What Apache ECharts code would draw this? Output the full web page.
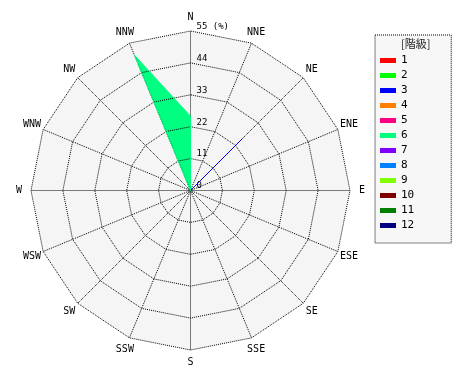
<!DOCTYPE html>
<html>
<head>
<meta charset="utf-8">
<script src="https://cdn.jsdelivr.net/npm/echarts@6/dist/echarts.min.js"></script>
<style>html,body{margin:0;padding:0;background:#fff}#c{width:470px;height:380px}</style>
</head>
<body>
<div id="c"></div>
<script>
// Directions, clockwise from north
const directions = ['N','NNE','NE','ENE','E','ESE','SE','SSE','S','SSW','SW','WSW','W','WNW','NW','NNW'];
// Radial scale (%)
const radialMax = 55;
const radialSplits = 5;
const radialUnit = '(%)';
// Classes (階級)
const classNames = ['1','2','3','4','5','6','7','8','9','10','11','12'];
const classColors = ['#ff0000','#00ff00','#0000ff','#ff8000','#ff0080','#00ff80','#8000ff','#0080ff','#80ff00','#800000','#008000','#000080'];
const legendTitle = '[階級]';
// Frequency (%) per direction, clockwise from N, for each class
const class1  = [0,0,0,0,0,0,0,0,0,0,0,0,0,0,0,0];
const class2  = [0,0,0,0,0,0,0,0,0,0,0,0,0,0,0,0];
const class3  = [0,0,25.3,0,0,0,0,0,0,0,0,0,0,0,0,0];
const class4  = [0,0,0,0,0,0,0,0,0,0,0,0,0,0,0,0];
const class5  = [0,0,0,0,0,0,0,0,0,0,0,0,0,0,0,0];
const class6  = [25.6,0,0,0,0,0,0,0,0,0,0,0,0,0,0,50.5];
const class7  = [0,0,0,0,0,0,0,0,0,0,0,0,0,0,0,0];
const class8  = [0,0,0,0,0,0,0,0,0,0,0,0,0,0,0,0];
const class9  = [0,0,0,0,0,0,0,0,0,0,0,0,0,0,0,0];
const class10 = [0,0,0,0,0,0,0,0,0,0,0,0,0,0,0,0];
const class11 = [0,0,0,0,0,0,0,0,0,0,0,0,0,0,0,0];
const class12 = [0,0,0,0,0,0,0,0,0,0,0,0,0,0,0,0];
const classValues = [class1,class2,class3,class4,class5,class6,class7,class8,class9,class10,class11,class12];

// ECharts radar places indicators counter-clockwise: reorder
const order = directions.map((d, i) => i === 0 ? 0 : directions.length - i);
const reorder = arr => order.map(i => arr[i]);

const center = [190.5, 190.5];
const radius = 159.5;
const dottedSplit = {color: '#000', width: 1, type: [1, 1], cap: 'butt'};
const dottedAxis = {color: '#000', width: 1, type: [1, 1], cap: 'butt'};

const indicatorsPlain = reorder(directions).map(n => ({name: n, max: radialMax, min: 0}));
const indicatorsTop = reorder(directions).map((n, i) => i === 0
  ? {name: n, max: radialMax, min: 0, axisLabel: {show: true}}
  : {name: n, max: radialMax, min: 0});

const dataFor = k => classValues[k].some(v => v > 0) ? [{value: reorder(classValues[k]), name: classNames[k]}] : [];

const fillSeries = classNames.map((name, k) => ({
  name: name, type: 'radar', radarIndex: 0, z: 2,
  symbol: 'none',
  itemStyle: {color: classColors[k]},
  lineStyle: {width: 0, opacity: 0},
  areaStyle: {color: classColors[k], opacity: 1},
  data: dataFor(k)
}));
const lineSeries = classNames.map((name, k) => ({
  name: name, type: 'radar', radarIndex: 1, z: 8,
  symbol: 'none',
  itemStyle: {color: classColors[k]},
  lineStyle: {color: classColors[k], width: 1},
  data: dataFor(k)
}));

const chart = echarts.init(document.getElementById('c'), null, {renderer: 'canvas'});
chart.setOption({
  animation: false,
  color: classColors,
  title: {
    text: legendTitle, left: 401, top: 38, padding: 0, z: 10,
    textStyle: {fontSize: 11, fontWeight: 'normal', color: '#222', fontFamily: 'Noto Sans CJK JP'}
  },
  legend: {
    orient: 'vertical', left: 375, top: 35,
    padding: [20, 37, 12, 5],
    itemWidth: 16, itemHeight: 5, itemGap: 4,
    icon: 'rect',
    data: classNames,
    backgroundColor: '#f7f7f7', borderColor: '#000', borderWidth: 1, borderType: [1, 1],
    textStyle: {fontFamily: 'DejaVu Sans Mono', fontSize: 11, color: '#000'},
    selectedMode: false
  },
  radar: [
    {
      center: center, radius: radius, startAngle: 90, shape: 'polygon',
      splitNumber: radialSplits, indicator: indicatorsPlain, z: 0,
      axisName: {show: false},
      axisLine: {show: false}, axisTick: {show: false}, axisLabel: {show: false},
      splitLine: {show: false},
      splitArea: {show: true, areaStyle: {color: ['#f5f5f5']}}
    },
    {
      center: center, radius: radius, startAngle: 90, shape: 'polygon',
      splitNumber: radialSplits, indicator: indicatorsTop, z: 5,
      nameGap: 12,
      axisName: {color: '#000', fontFamily: 'DejaVu Sans Mono', fontSize: 10, align: 'center', verticalAlign: 'middle'},
      axisLine: {show: true, lineStyle: dottedAxis},
      axisTick: {show: false},
      axisLabel: {
        show: false, margin: -6, align: 'left', verticalAlign: 'bottom',
        color: '#000', fontFamily: 'DejaVu Sans Mono', fontSize: 9,
        formatter: v => v === radialMax ? v + ' ' + radialUnit : String(v)
      },
      splitLine: {show: true, lineStyle: dottedSplit},
      splitArea: {show: false}
    }
  ],
  series: fillSeries.concat(lineSeries)
});
</script>
</body>
</html>
